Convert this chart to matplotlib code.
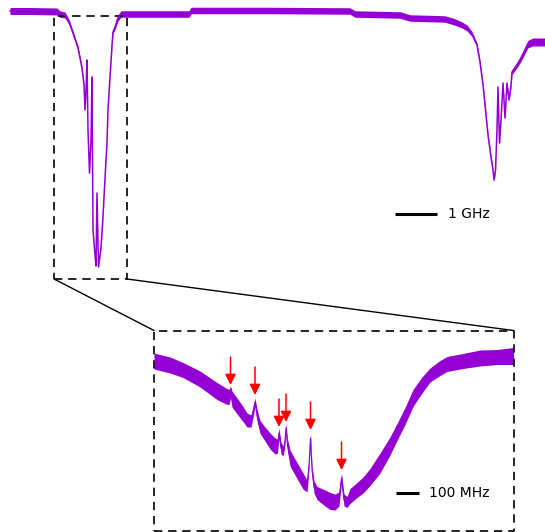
import numpy as np
import matplotlib
matplotlib.use("Agg")
import matplotlib.pyplot as plt
from matplotlib.patches import Rectangle, ConnectionPatch

TRACE = "#9400D3"

# ---- broadband transmission (frequency in GHz, normalised transmission) ----
wide_ghz = [0.000, 0.476, 1.119, 1.190, 1.310, 1.405, 1.500, 1.619, 1.714, 1.762,
            1.786, 1.810, 1.833, 1.857, 1.893, 1.929, 1.952, 1.976, 2.024, 2.048,
            2.071, 2.107, 2.143, 2.167, 2.214, 2.238, 2.286, 2.310, 2.333, 2.381,
            2.429, 2.452, 2.500, 2.571, 2.643, 3.333, 4.262, 4.310, 6.190, 8.095,
            8.214, 9.286, 9.524, 10.357, 10.595, 10.762, 10.881, 11.000, 11.119, 11.190,
            11.262, 11.310, 11.381, 11.452, 11.500, 11.524, 11.560, 11.595, 11.619, 11.655,
            11.690, 11.738, 11.786, 11.833, 11.881, 11.929, 11.952, 12.024, 12.143, 12.262,
            12.333, 12.452, 12.738]
wide_trans = [1.028, 1.028, 1.026, 1.016, 1.012, 0.984, 0.940, 0.880, 0.800, 0.732,
              0.632, 0.712, 0.832, 0.552, 0.380, 0.512, 0.764, 0.152, 0.052, 0.008,
              0.300, 0.004, 0.052, 0.084, 0.204, 0.284, 0.432, 0.500, 0.632, 0.764,
              0.892, 0.944, 0.964, 1.000, 1.016, 1.016, 1.016, 1.030, 1.030, 1.028,
              1.016, 1.012, 1.000, 0.996, 0.984, 0.972, 0.960, 0.936, 0.892, 0.824,
              0.732, 0.652, 0.532, 0.444, 0.392, 0.352, 0.392, 0.552, 0.724, 0.500,
              0.592, 0.740, 0.600, 0.740, 0.672, 0.732, 0.784, 0.800, 0.832, 0.872,
              0.896, 0.904, 0.904]
wide_noise = [0.014, 0.014, 0.014, 0.013, 0.012, 0.010, 0.009, 0.008, 0.006, 0.005,
              0.004, 0.004, 0.003, 0.004, 0.004, 0.004, 0.003, 0.004, 0.004, 0.004,
              0.003, 0.004, 0.004, 0.004, 0.004, 0.004, 0.004, 0.004, 0.004, 0.005,
              0.006, 0.008, 0.010, 0.012, 0.013, 0.013, 0.013, 0.013, 0.013, 0.013,
              0.013, 0.013, 0.013, 0.013, 0.013, 0.012, 0.012, 0.010, 0.008, 0.006,
              0.005, 0.005, 0.005, 0.005, 0.005, 0.005, 0.005, 0.005, 0.004, 0.005,
              0.005, 0.004, 0.005, 0.004, 0.005, 0.007, 0.010, 0.010, 0.012, 0.014,
              0.015, 0.016, 0.016]

# region shown in the magnified panel
zoom_ghz = (1.048, 2.786)
zoom_trans = (-0.044, 1.008)

# ---- magnified scan of the first dip (frequency offset in MHz) ----
fine_mhz = [0.0, 69.6, 126.1, 200.0, 273.9, 313.0, 326.1, 332.6, 339.1, 360.9,
            387.0, 404.3, 421.7, 432.6, 439.1, 447.8, 460.9, 482.6, 504.3, 526.1,
            537.0, 543.5, 552.2, 560.9, 567.4, 573.9, 580.4, 591.3, 613.0, 647.8,
            665.2, 673.9, 680.4, 687.0, 695.7, 708.7, 743.5, 765.2, 787.0, 804.3,
            815.2, 826.1, 839.1, 852.2, 882.6, 908.7, 939.1, 982.6, 1026.1, 1056.5,
            1091.3, 1126.1, 1165.2, 1200.0, 1243.5, 1273.9, 1343.5, 1417.4, 1491.3, 1563.0]
fine_trans = [0.795, 0.775, 0.750, 0.705, 0.645, 0.620, 0.615, 0.640, 0.605, 0.570,
              0.530, 0.500, 0.495, 0.550, 0.590, 0.525, 0.465, 0.430, 0.395, 0.370,
              0.370, 0.435, 0.360, 0.345, 0.375, 0.460, 0.375, 0.310, 0.265, 0.195,
              0.170, 0.275, 0.410, 0.250, 0.165, 0.135, 0.110, 0.095, 0.090, 0.105,
              0.210, 0.100, 0.090, 0.120, 0.150, 0.175, 0.215, 0.285, 0.370, 0.440,
              0.520, 0.610, 0.675, 0.725, 0.760, 0.780, 0.795, 0.810, 0.815, 0.820]
fine_noise = [0.040, 0.040, 0.0375, 0.040, 0.0425, 0.040, 0.038, 0.030, 0.040, 0.040,
              0.0375, 0.035, 0.030, 0.025, 0.020, 0.030, 0.0325, 0.035, 0.040, 0.040,
              0.035, 0.025, 0.030, 0.025, 0.020, 0.025, 0.030, 0.040, 0.040, 0.040,
              0.030, 0.020, 0.025, 0.025, 0.030, 0.0325, 0.040, 0.0425, 0.040, 0.035,
              0.025, 0.030, 0.0275, 0.0375, 0.0375, 0.040, 0.0425, 0.050, 0.045, 0.0425,
              0.0425, 0.0425, 0.040, 0.035, 0.0375, 0.0375, 0.0375, 0.040, 0.0375, 0.0425]

# narrow resonances marked with arrows
peak_mhz = [332.6, 439.1, 543.5, 573.9, 680.4, 815.2]
peak_level = [0.665, 0.615, 0.455, 0.480, 0.440, 0.240]

fig = plt.figure(figsize=(5.45, 5.32), dpi=100)
W, H = 545.0, 532.0

# ---------------- broadband panel ----------------
ax = fig.add_axes([10 / W, 1 - 290 / H, 535 / W, 290 / H])
ax.set_xlim(0, 12.738)
ax.set_ylim(-0.088, 1.072)
ax.axis("off")

wg = np.array(wide_ghz)
wt = np.array(wide_trans)
wn = np.array(wide_noise)
ax.fill_between(wg, wt - wn, wt + wn, color=TRACE, lw=0, clip_on=False)
ax.plot(wg, wt, color=TRACE, lw=1.1, clip_on=False)

dash = (0, (5, 3.5))
ax.add_patch(Rectangle((zoom_ghz[0], zoom_trans[0]),
                       zoom_ghz[1] - zoom_ghz[0], zoom_trans[1] - zoom_trans[0],
                       fill=False, ec="black", lw=1.2, ls=dash, clip_on=False))

# 1 GHz scale bar
bar_ghz = 9.167
bar_t = 0.216
ax.plot([bar_ghz, bar_ghz + 1.0], [bar_t, bar_t], color="black", lw=2.2,
        solid_capstyle="butt")
ax.text(bar_ghz + 1.25, bar_t, "1 GHz", fontsize=10, va="center", ha="left")

# ---------------- magnified panel ----------------
ax2 = fig.add_axes([154 / W, 1 - 530.5 / H, 359.5 / W, 200 / H])
ax2.set_xlim(0, 1563.0)
ax2.set_ylim(-0.0525, 0.9475)
ax2.axis("off")

fm = np.array(fine_mhz)
ft = np.array(fine_trans)
fn = np.array(fine_noise)
ax2.fill_between(fm, ft - fn, ft + fn, color=TRACE, lw=0)
ax2.plot(fm, ft, color=TRACE, lw=0.8)

ax2.add_patch(Rectangle((0, 0), 1, 1, transform=ax2.transAxes, fill=False,
                        ec="black", lw=1.2, ls=dash, clip_on=False))

for f, lvl in zip(peak_mhz, peak_level):
    ax2.annotate("", xy=(f, lvl + 0.01), xytext=(f, lvl + 0.15),
                 arrowprops=dict(arrowstyle="-|>", color="red", lw=1.1,
                                 mutation_scale=16, shrinkA=0, shrinkB=0))

# 100 MHz scale bar
bar_mhz = 1052.0
bar_t2 = 0.1335
ax2.plot([bar_mhz, bar_mhz + 100], [bar_t2, bar_t2], color="black", lw=2.2,
         solid_capstyle="butt")
ax2.text(bar_mhz + 145, bar_t2, "100 MHz", fontsize=10, va="center", ha="left")

# lines linking the selected window to the magnified panel
for xa, xb in [(zoom_ghz[0], 0.0), (zoom_ghz[1], 1.0)]:
    con = ConnectionPatch(xyA=(xa, zoom_trans[0]), coordsA="data", axesA=ax,
                          xyB=(xb, 1.0), coordsB="axes fraction", axesB=ax2,
                          color="black", lw=1.0)
    fig.add_artist(con)

fig.savefig("out.png", dpi=100)
